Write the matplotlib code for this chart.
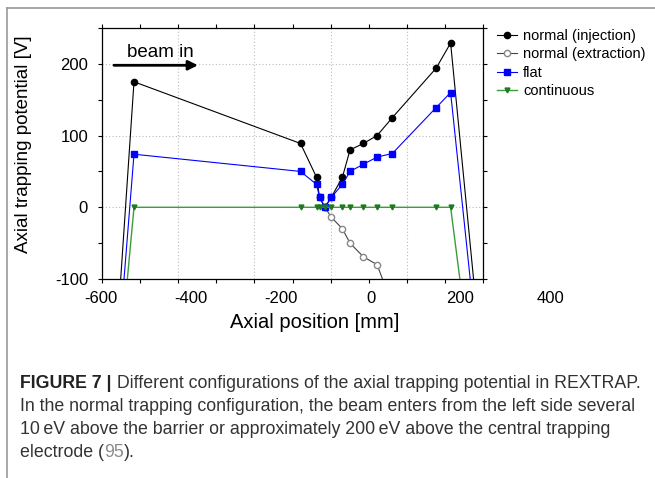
import matplotlib
matplotlib.use("Agg")
import matplotlib.pyplot as plt
from matplotlib.lines import Line2D
from matplotlib.ticker import MultipleLocator, NullFormatter

plt.rcParams["font.family"] = ["Liberation Sans", "DejaVu Sans"]
plt.rcParams["axes.unicode_minus"] = False

# electrode positions [mm] and potentials [V]
pos = [-598, -516, -79, -37, -29, -15, 2, 31, 51, 86, 122, 162, 277, 315, 485]
injection = [-470, 175, 89, 42, 14, 0, 14, 42, 80, 89, 100, 125, 194, 229, -700]
flat = [-470, 74, 50, 32, 14, 0, 14, 32, 50, 60, 70, 75, 139, 160, -700]
continuous = [-470, 0, 0, 0, 0, 0, 0, 0, 0, 0, 0, 0, 0, 0, -700]

pos_extr = [-15, 2, 31, 51, 86, 122, 162]
extraction = [0, -14, -30, -50, -69, -80, -136]

x_ticklabels = [-600, -400, -200, 0, 200, 400]
y_ticks = [-100, 0, 100, 200]

fig = plt.figure(figsize=(6.55, 4.78), dpi=100)
ax = fig.add_axes([102 / 655, 199 / 478, 381 / 655, 251 / 478])

ax.plot(pos, injection, "-o", color="black", lw=0.8, ms=4.5,
        label="normal (injection)", zorder=3)
ax.plot(pos_extr, extraction, "-o", color="#444444", lw=0.8, ms=4.5,
        mfc="white", mec="#888888", label="normal (extraction)", zorder=2)
ax.plot(pos, flat, "-s", color="#0000ff", lw=0.8, ms=4, label="flat", zorder=4)
ax.plot(pos, continuous, "-v", color="#3c9c3c", lw=1.0, ms=3.5,
        mfc="#1f7a1f", mec="#1f7a1f", label="continuous", zorder=5)

ax.set_xlim(-600, 400)
ax.set_ylim(-100, 250)
ax.xaxis.set_major_locator(MultipleLocator(200))
ax.xaxis.set_minor_locator(MultipleLocator(100))
ax.yaxis.set_major_locator(MultipleLocator(100))
ax.yaxis.set_minor_locator(MultipleLocator(50))
ax.set_yticks(y_ticks)
ax.grid(True, which="major", ls=(0, (1, 2)), color="#bbbbbb", lw=0.8)
ax.tick_params(which="both", direction="out", top=True, right=True,
               length=3, width=0.8, labelsize=12, pad=7)
ax.tick_params(axis="x", which="major", labelbottom=False)
ax.xaxis.set_minor_formatter(NullFormatter())
for s in ax.spines.values():
    s.set_linewidth(0.9)

# tick labels in the source figure sit stretched relative to the ticks
for lab in x_ticklabels:
    ax.text(1.18 * lab + 105, -0.048, str(lab), transform=ax.get_xaxis_transform(),
            ha="center", va="top", fontsize=12, clip_on=False)

ax.set_xlabel("Axial position [mm]", fontsize=14.5)
ax.xaxis.set_label_coords(0.559, -0.137)
ax.set_ylabel("Axial trapping potential [V]", fontsize=13.5)
ax.yaxis.set_label_coords(-0.184, 0.538)

ax.annotate("", xy=(-341, 198), xytext=(-576, 198),
            arrowprops=dict(arrowstyle="-|>", lw=2, color="black", mutation_scale=14))
ax.text(-446, 209, "beam in", ha="center", va="baseline", fontsize=13.5)

fig.legend(loc="upper left", bbox_to_anchor=(497 / 655, 1 - 29 / 478),
           frameon=False, fontsize=10.5, handlelength=1.4, handletextpad=0.4,
           labelspacing=0.3, borderpad=0, borderaxespad=0)

# page frame lines
fig.add_artist(Line2D([7 / 655, 1], [1 - 8 / 478] * 2, color="#999999", lw=1.2))
fig.add_artist(Line2D([7 / 655] * 2, [0, 1 - 8 / 478], color="#999999", lw=1.2))

# caption
cap_color = "#333333"
cap_size = 12.8
x0 = 20 / 655
t1 = fig.text(x0, 1 - 388 / 478, "FIGURE 7 |", fontsize=cap_size, weight="bold",
              color="#222222", va="baseline")
plt.annotate(" Different configurations of the axial trapping potential in REXTRAP.",
             xy=(1, 1 - 388 / 478), xycoords=(t1, "figure fraction"),
             fontsize=cap_size, color=cap_color, va="baseline", annotation_clip=False)
fig.text(x0, 1 - 411 / 478,
         "In the normal trapping configuration, the beam enters from the left side several",
         fontsize=cap_size, color=cap_color, va="baseline")
fig.text(x0, 1 - 434 / 478,
         "10\u2009eV above the barrier or approximately 200\u2009eV above the central trapping",
         fontsize=cap_size, color=cap_color, va="baseline")
t4 = fig.text(x0, 1 - 457 / 478, "electrode (", fontsize=cap_size, color=cap_color,
              va="baseline")
t5 = plt.annotate("95", xy=(1, 1 - 457 / 478), xycoords=(t4, "figure fraction"),
                  fontsize=cap_size, color="#8a8a8a", va="baseline", annotation_clip=False)
plt.annotate(").", xy=(1, 1 - 457 / 478), xycoords=(t5, "figure fraction"),
             fontsize=cap_size, color=cap_color, va="baseline", annotation_clip=False)

fig.savefig("out.png", dpi=100)
